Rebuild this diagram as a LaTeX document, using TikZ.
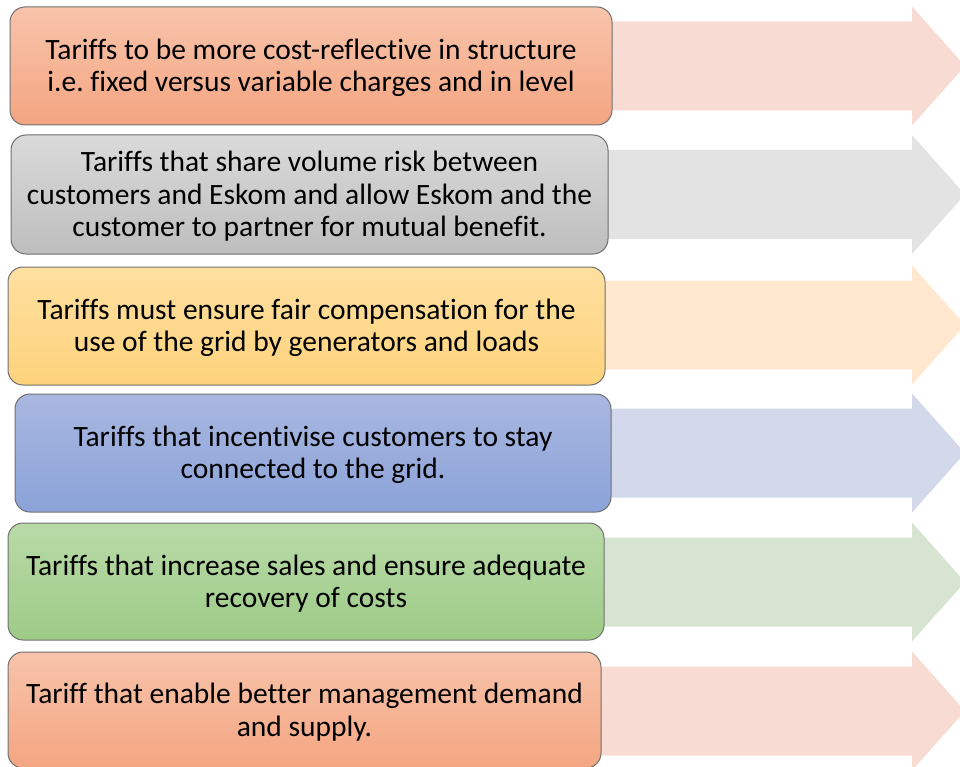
\documentclass[tikz,border=0pt]{standalone}
\usepackage{fontspec}
\setmainfont{Carlito}[Ligatures=NoCommon]
\frenchspacing
\definecolor{orgtop}{HTML}{F8C4AB}
\definecolor{orgbot}{HTML}{F4A581}
\definecolor{orgarr}{HTML}{F8DBD2}
\definecolor{grytop}{HTML}{DADADA}
\definecolor{grybot}{HTML}{BEBEBE}
\definecolor{gryarr}{HTML}{E3E3E3}
\definecolor{yeltop}{HTML}{FFE0A0}
\definecolor{yelbot}{HTML}{FDD27C}
\definecolor{yelarr}{HTML}{FFE8CF}
\definecolor{blutop}{HTML}{A9B7E0}
\definecolor{blubot}{HTML}{8BA3D9}
\definecolor{bluarr}{HTML}{D3D9EB}
\definecolor{grntop}{HTML}{B9DAA8}
\definecolor{grnbot}{HTML}{9DCB86}
\definecolor{grnarr}{HTML}{D8E4D2}
\definecolor{edge}{HTML}{707070}
\begin{document}
\begin{tikzpicture}[x=1pt,y=-1pt,
  tariffbox/.style={draw=edge, line width=1pt, rounded corners=15pt,
    inner sep=0pt},
  tarifftext/.style={align=center, inner sep=0pt, text=black,
    font=\fontsize{29.5}{32.5}\selectfont}]
\useasboundingbox (0,0) rectangle (960,767);

% arrows (drawn first, behind the boxes): body half-height 44.5, head half-height 59.5
\foreach \c/\col in {66/orgarr, 194.5/gryarr, 325/yelarr, 453/bluarr, 582/grnarr, 711/orgarr}{
  \fill[\col] (300,\c-44.5) -- (912,\c-44.5) -- (912,\c-59.5) -- (965,\c)
    -- (912,\c+59.5) -- (912,\c+44.5) -- (300,\c+44.5) -- cycle;
}

% boxes
\node[tariffbox, top color=orgtop, bottom color=orgbot,
  minimum width=602pt, minimum height=118pt] (b1) at (311,66) {};
\node[tariffbox, top color=grytop, bottom color=grybot,
  minimum width=597pt, minimum height=119pt] (b2) at (309.5,194.5) {};
\node[tariffbox, top color=yeltop, bottom color=yelbot,
  minimum width=597pt, minimum height=118pt] (b3) at (306.5,326) {};
\node[tariffbox, top color=blutop, bottom color=blubot,
  minimum width=596pt, minimum height=118pt] (b4) at (313,453) {};
\node[tariffbox, top color=grntop, bottom color=grnbot,
  minimum width=596pt, minimum height=117pt] (b5) at (306,581.5) {};
\node[tariffbox, top color=orgtop, bottom color=orgbot,
  minimum width=593pt, minimum height=116pt] (b6) at (304.5,710) {};

% box texts, set a little below each box centre
\node[tarifftext] (t1) at ([yshift=-2pt]b1.center)
  {Tariffs to be more cost-reflective in structure\\i.e. fixed versus variable charges and in level};
\node[tarifftext] (t2) at ([yshift=-2pt]b2.center)
  {Tariffs that share volume risk between\\customers and Eskom and allow Eskom and the\\customer to partner for mutual benefit.};
\node[tarifftext] (t3) at ([yshift=-2pt]b3.center)
  {Tariffs must ensure fair compensation for the\\use of the grid by generators and loads};
\node[tarifftext] (t4) at ([yshift=-2pt]b4.center)
  {Tariffs that incentivise customers to stay\\connected to the grid.};
\node[tarifftext] (t5) at ([yshift=-2pt]b5.center)
  {Tariffs that increase sales and ensure adequate\\recovery of costs};
\node[tarifftext] (t6) at ([yshift=-2pt]b6.center)
  {Tariff that enable better management demand\\and supply.};
\end{tikzpicture}
\end{document}
